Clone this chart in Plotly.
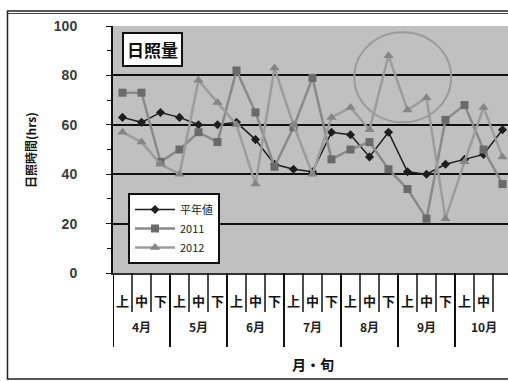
import plotly.graph_objects as go

# 旬別の日照時間 (hrs)
months = ["4月", "5月", "6月", "7月", "8月", "9月", "10月"]
junn = ["上", "中", "下"]
normal = [63, 61, 65, 63, 60, 60, 61, 54, 44, 42, 41, 57, 56, 47, 57, 41, 40, 44, 46, 48, 58]
y2011 = [73, 73, 45, 50, 57, 53, 82, 65, 43, 59, 79, 46, 50, 53, 42, 34, 22, 62, 68, 50, 36]
y2012 = [57, 53, 44, 40, 78, 69, 60, 36, 83, 60, 40, 63, 67, 58, 88, 66, 71, 22, 45, 67, 47]
series_names = ["平年値", "2011", "2012"]
y_ticks = [0, 20, 40, 60, 80, 100]

n = len(months) * len(junn)
xs = list(range(n))
ticktext = [j for _ in months for j in junn]

# pixel layout of the figure
W, H = 508, 381
L, R, T, B = 113, 0, 26, 108
PW, PH = W - L - R, H - T - B
CAT_PX = 19.0  # width of one 旬


def px_x(p):
    return (p - L) / PW


def px_y(p):
    return (H - B - p) / PH


JP = "Noto Sans CJK JP"

fig = go.Figure()
fig.add_trace(go.Scatter(
    x=xs, y=normal, name=series_names[0], mode="lines+markers",
    line=dict(color="#1e1e1e", width=1.5),
    marker=dict(symbol="diamond", size=7, color="#1e1e1e"),
))
fig.add_trace(go.Scatter(
    x=xs, y=y2011, name=series_names[1], mode="lines+markers",
    line=dict(color="#8a8a8a", width=2.5),
    marker=dict(symbol="square", size=8, color="#6a6a6a"),
))
fig.add_trace(go.Scatter(
    x=xs, y=y2012, name=series_names[2], mode="lines+markers",
    line=dict(color="#9c9c9c", width=2.5),
    marker=dict(symbol="triangle-up", size=9, color="#858585"),
))

shapes = []
# boundaries between 旬 (short) and between months (long)
for k in range(n + 1):
    is_month = k % 3 == 0
    bottom_px = 347 if is_month else 312
    shapes.append(dict(
        type="line", xref="x", yref="paper",
        x0=k - 0.5, x1=k - 0.5, y0=0, y1=px_y(bottom_px),
        line=dict(color="#111111", width=2 if is_month else 1.5),
    ))

# circle around the 2012 peak
peak_i = max(range(n), key=lambda i: y2012[i])
peak_v = y2012[peak_i]
shapes.append(dict(
    type="circle", xref="x", yref="y",
    x0=peak_i - 1.8, x1=peak_i + 3.3, y0=peak_v - 27, y1=peak_v + 9.5,
    line=dict(color="#9a9a9a", width=2),
))

# outer chart frame
shapes.append(dict(
    type="rect", xref="paper", yref="paper",
    x0=px_x(7.5), x1=px_x(520), y0=px_y(379), y1=px_y(11),
    line=dict(color="#222222", width=1.5), layer="below",
))
shapes.append(dict(
    type="line", xref="paper", yref="paper",
    x0=px_x(7.5), x1=px_x(520), y0=px_y(13.5), y1=px_y(13.5),
    line=dict(color="#444444", width=1),
))

annotations = []
for m, name in enumerate(months):
    annotations.append(dict(
        x=3 * m + 1, xref="x", y=px_y(326), yref="paper",
        text="<b>" + name + "</b>", showarrow=False,
        font=dict(family=JP, size=12, color="#222222"),
        xanchor="center", yanchor="middle",
    ))
annotations.append(dict(
    x=px_x(313), xref="paper", y=px_y(364), yref="paper",
    text="<b>月・旬</b>", showarrow=False, font=dict(family=JP, size=14, color="#111111"),
    xanchor="center", yanchor="middle",
))
annotations.append(dict(
    x=px_x(30), xref="paper", y=px_y(150), yref="paper",
    text="<b>日照時間(hrs)</b>", textangle=-90, showarrow=False,
    font=dict(family=JP, size=12, color="#111111"),
    xanchor="center", yanchor="middle",
))
annotations.append(dict(
    x=px_x(122), xref="paper", y=px_y(32), yref="paper",
    text="<b>日照量</b>", showarrow=False,
    font=dict(family=JP, size=17, color="#111111"),
    xanchor="left", yanchor="top",
    bgcolor="white", bordercolor="#111111", borderwidth=2, borderpad=3,
))

fig.update_layout(
    width=W, height=H,
    margin=dict(l=L, r=R, t=T, b=B),
    paper_bgcolor="white",
    plot_bgcolor="#c0c0c0",
    showlegend=True,
    legend=dict(
        x=px_x(128), y=px_y(193), xanchor="left", yanchor="top",
        bgcolor="white", bordercolor="#111111", borderwidth=2,
        font=dict(family=JP, size=11, color="#222222"),
        tracegroupgap=0, itemwidth=40,
    ),
    shapes=shapes,
    annotations=annotations,
    xaxis=dict(
        range=[-0.5, -0.5 + PW / CAT_PX],
        tickmode="array", tickvals=xs, ticktext=["<b>" + t + "</b>" for t in ticktext],
        tickfont=dict(family=JP, size=13, color="#111111"),
        ticks="", ticklabelstandoff=15,
        showgrid=False, zeroline=False,
        showline=True, linecolor="#333333", linewidth=2,
    ),
    yaxis=dict(
        range=[0, 100], tickmode="array", tickvals=y_ticks,
        ticktext=["<b>%d</b>" % v for v in y_ticks],
        tickfont=dict(family="Liberation Sans", size=14, color="#3a3a3a"),
        ticks="outside", ticklen=5, tickcolor="#111111",
        ticklabelstandoff=26,
        showgrid=True, gridcolor="#111111", gridwidth=1.5,
        zeroline=False,
        showline=True, linecolor="#111111", linewidth=2,
        minor=dict(tickvals=[10, 30, 50, 70, 90], ticks="outside", ticklen=4,
                   tickcolor="#111111", showgrid=False),
    ),
)

fig.write_html("out.html")
